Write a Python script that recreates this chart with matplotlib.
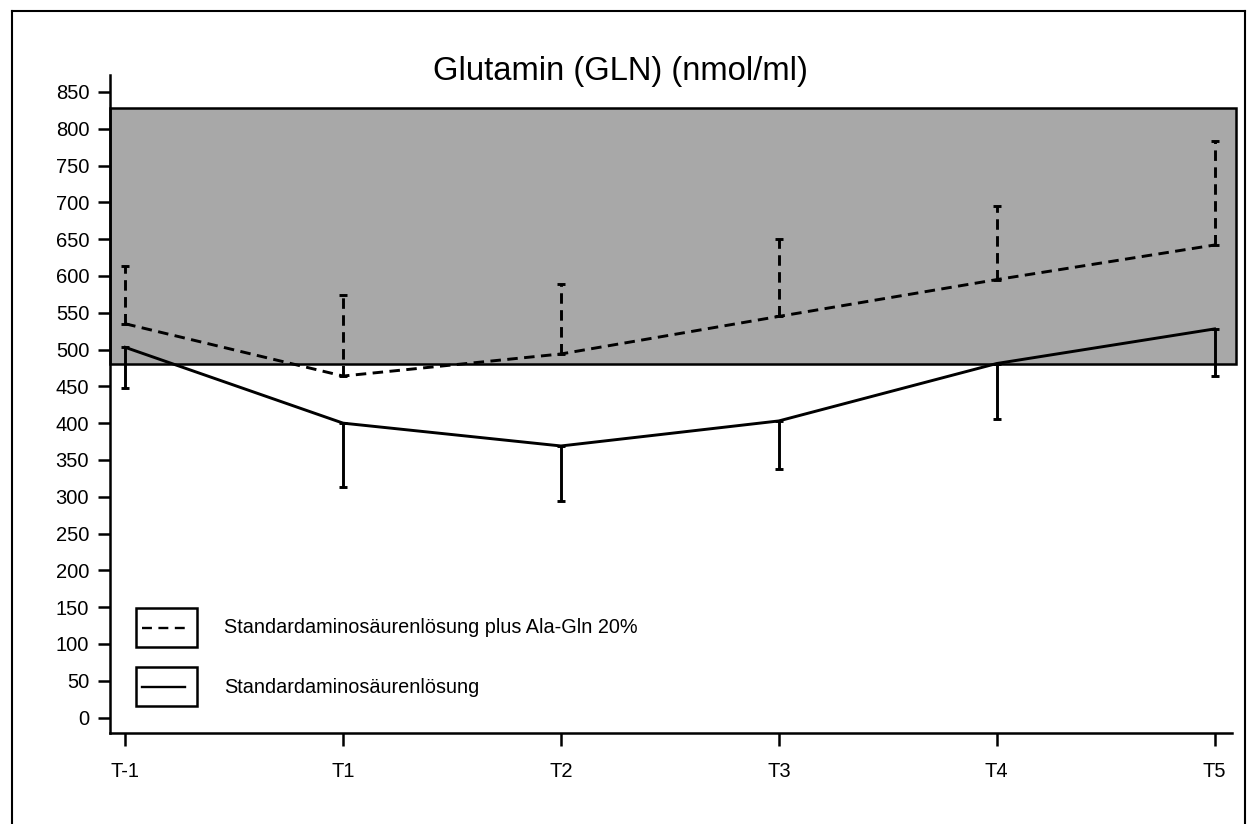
import matplotlib.pyplot as plt
from matplotlib.patches import Rectangle
from matplotlib.lines import Line2D

# Werte
zeitpunkte = ["T-1", "T1", "T2", "T3", "T4", "T5"]
alagln_mittel = [535, 464, 494, 545, 595, 642]
alagln_oben = [613, 574, 589, 650, 695, 783]
standard_mittel = [503, 400, 369, 403, 481, 528]
standard_unten = [448, 313, 294, 338, 406, 464]
referenz_unten = 480
referenz_oben = 828
yticks = list(range(0, 851, 50))

plt.rcParams['font.family'] = ['Liberation Sans', 'DejaVu Sans']

fig = plt.figure(figsize=(12.51, 8.24), dpi=100)
ax = fig.add_axes([0.0879, 0.1104, 0.8969, 0.7986])

x = list(range(len(zeitpunkte)))
lw = 2.1
strich = (0, (3.6, 2.2))

# grauer Referenzbereich
ax.add_patch(Rectangle((-0.07, referenz_unten), 5.17, referenz_oben - referenz_unten,
                       facecolor="#a8a8a8", edgecolor="black", linewidth=1.8,
                       clip_on=False, zorder=1))

# Ala-Gln (gestrichelt, Fehlerbalken nach oben)
ax.plot(x, alagln_mittel, color="black", linestyle=strich, linewidth=lw, zorder=3)
err_o = [0] * len(x), [o - m for o, m in zip(alagln_oben, alagln_mittel)]
eb = ax.errorbar(x, alagln_mittel, yerr=err_o, fmt="none", ecolor="black",
                 elinewidth=lw, capsize=3, capthick=lw, zorder=3)
eb[2][0].set_linestyle(strich)

# Standardlösung (durchgezogen, Fehlerbalken nach unten)
ax.plot(x, standard_mittel, color="black", linestyle="-", linewidth=lw, zorder=3)
err_u = [m - u for m, u in zip(standard_mittel, standard_unten)], [0] * len(x)
ax.errorbar(x, standard_mittel, yerr=err_u, fmt="none", ecolor="black",
            elinewidth=lw, capsize=3, capthick=lw, zorder=3)

ax.set_xlim(-0.07, 5.08)
ax.set_ylim(-21, 873)
ax.set_xticks(x)
ax.set_xticklabels(zeitpunkte)
ax.set_yticks(yticks)
ax.tick_params(axis="both", direction="out", length=9, width=1.8, labelsize=14.5)
ax.tick_params(axis="x", pad=12)
ax.tick_params(axis="y", pad=6)
ax.spines["top"].set_visible(False)
ax.spines["right"].set_visible(False)
ax.spines["left"].set_linewidth(1.8)
ax.spines["bottom"].set_linewidth(1.8)

# Legende von Hand
for y0, stil, text, ty in [(0.1307, (0, (4.2, 2.75)), "Standardaminosäurenlösung plus Ala-Gln 20%", 0.161),
                           (0.041, "-", "Standardaminosäurenlösung", 0.0699)]:
    ax.add_patch(Rectangle((0.0232, y0), 0.0543, 0.0593, transform=ax.transAxes,
                           facecolor="white", edgecolor="black", linewidth=1.8, zorder=4))
    ax.plot([0.0285, 0.0668], [y0 + 0.0296] * 2, transform=ax.transAxes,
            color="black", linestyle=stil, linewidth=1.7, zorder=5)
    ax.text(0.1016, ty, text, transform=ax.transAxes, fontsize=14.3, va="center", ha="left")

fig.text(0.4956, 0.903, "Glutamin (GLN) (nmol/ml)", fontsize=23.6, ha="center", va="baseline")

# Rahmen um die Abbildung
for xs, ys in [([0.0096, 0.0096], [0.0, 0.9866]), ([0.0096, 0.9952], [0.9866, 0.9866]),
               ([0.9952, 0.9952], [0.9866, 0.0])]:
    fig.add_artist(Line2D(xs, ys, color="black", linewidth=1.5))

fig.savefig("out.png", dpi=100)
